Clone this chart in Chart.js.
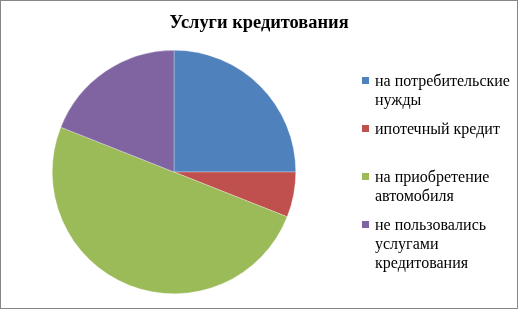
<!DOCTYPE html>
<html>
<head>
<meta charset="utf-8">
<script src="https://cdn.jsdelivr.net/npm/chart.js@4"></script>
<style>
    html, body { margin: 0; padding: 0; background: #fff; }
    #box {
        position: relative;
        width: 518px;
        height: 309px;
        box-sizing: border-box;
        border: 1px solid #868686;
        overflow: hidden;
        font-family: "Liberation Serif", "DejaVu Serif", serif;
        color: #000;
    }
    #box canvas { position: absolute; left: -1px; top: -1px; }
    #title {
        position: absolute;
        left: 0; right: 0; top: 10px;
        text-align: center;
        font-weight: bold;
        font-size: 18.4px;
        line-height: 22px;
    }
    .item {
        position: absolute;
        left: 361px;
        width: 150px;
        font-size: 16px;
        line-height: 19px;
    }
    .item .mark {
        position: absolute;
        left: 0; top: 6px;
        width: 7px; height: 7px;
    }
    .item .txt { margin-left: 13px; width: 140px; }
</style>
</head>
<body>
<div id="box">
    <canvas id="pie" width="518" height="309"></canvas>
    <div id="title">Услуги кредитования</div>
    <div id="legend"></div>
</div>
<script>
// data
const labels = [
    'на потребительские нужды',
    'ипотечный кредит',
    'на приобретение автомобиля',
    'не пользовались услугами кредитования'
];
const values = [25, 6, 50, 19];
const colors = ['#4F81BD', '#C0504D', '#9BBB59', '#8064A2'];

// legend top of each item's first line
const legendTops = [70, 118, 166, 214];

// chart
new Chart('pie', {
    type: 'pie',
    data: {
        labels,
        datasets: [{
            data: values,
            backgroundColor: colors,
            borderColor: 'rgba(255,255,255,0.6)',
            borderWidth: 0.5
        }]
    },
    options: {
        responsive: false,
        animation: false,
        layout: {
            padding: {left: 52, right: 222, top: 50, bottom: 15}
        },
        plugins: {
            legend: {display: false},
            tooltip: {enabled: false}
        }
    }
});

// legend
const legend = document.getElementById('legend');
labels.forEach((label, i)=>{
    const item = document.createElement('div');
    item.className = 'item';
    item.style.top = legendTops[i] + 'px';
    item.innerHTML = `<div class="mark" style="background:${colors[i]}"></div><div class="txt">${label}</div>`;
    legend.appendChild(item);
});
</script>
</body>
</html>
